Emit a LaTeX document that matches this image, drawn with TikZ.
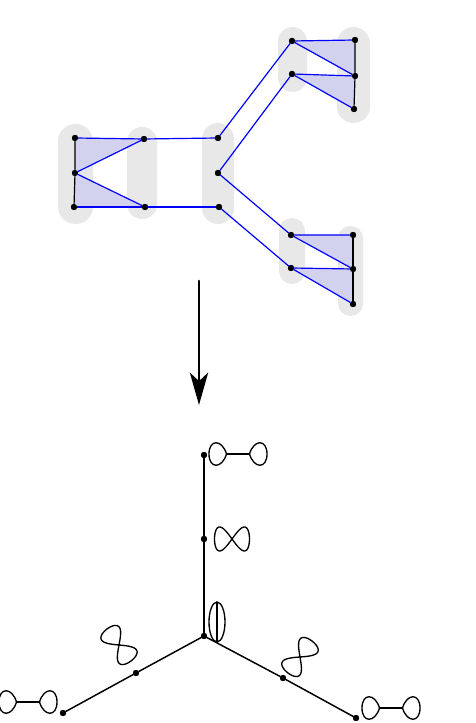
\documentclass[tikz,border=0pt]{standalone}
\usepackage{tikz}
\usetikzlibrary{arrows.meta,positioning,calc}
\definecolor{ink}{HTML}{000000}
\definecolor{edge}{HTML}{0000FF}
\definecolor{face}{HTML}{D2D2EE}
\definecolor{pad}{HTML}{E8E8E8}
\tikzset{
  every picture/.style={line cap=round, line join=round},
  vtx/.style={circle, fill=ink, inner sep=0pt, minimum size=4.4pt},
  capsule/.style={fill=pad, draw=none},
  cell/.style={fill=face, draw=none},
  link/.style={draw=edge, line width=0.85pt},
  side/.style={draw=ink, line width=0.85pt},
  branch/.style={draw=ink, line width=1.05pt},
  curve/.style={draw=ink, line width=0.95pt},
  bigarrow/.style={-{Stealth[length=23pt, width=13pt, inset=6pt]}, line width=1.8pt, draw=ink},
  dumbbell/.pic={
    \draw[curve] (-11.5,0) -- (11.5,0);
    \draw[curve] (11.5,0) .. controls (16,15) and (29,15) .. (29,0)
                 .. controls (29,-15) and (16,-15) .. (11.5,0);
    \draw[curve] (-11.5,0) .. controls (-16,15) and (-29,15) .. (-29,0)
                 .. controls (-29,-15) and (-16,-15) .. (-11.5,0);
  },
  eight/.pic={
    \draw[curve] plot[domain=0:360, samples=73, smooth cycle]
      ({cos(\x)}, {sin(\x)*cos(\x)});
  }
}

\begin{document}
\begin{tikzpicture}[x=0.025cm, y=0.025cm]
  \useasboundingbox (0,0) rectangle (475,723);

  % gray capsules behind the columns
  \fill[capsule, rounded corners=0.43cm] (58,499) rectangle (93,599);
  \fill[capsule, rounded corners=0.37cm] (127,504) rectangle (157,596);
  \fill[capsule, rounded corners=0.40cm] (202,499) rectangle (234,600);
  \fill[capsule, rounded corners=0.36cm] (278,631) rectangle (307,696);
  \fill[capsule, rounded corners=0.41cm] (337,600) rectangle (370,696);
  \fill[capsule, rounded corners=0.32cm] (279,439) rectangle (305,505);
  \fill[capsule, rounded corners=0.31cm] (338,407) rectangle (363,497);

  % vertices of the top complex
  \node[vtx] (a1) at (75,585) {};
  \node[vtx] (a2) at (75,550) {};
  \node[vtx] (a3) at (74,516) {};
  \node[vtx] (b1) at (144,584) {};
  \node[vtx] (b2) at (145,516) {};
  \node[vtx] (c1) at (218,585) {};
  \node[vtx] (c2) at (218,550) {};
  \node[vtx] (c3) at (219,516) {};
  \node[vtx] (u1) at (292,682) {};
  \node[vtx] (u2) at (292,649) {};
  \node[vtx] (v1) at (355,683) {};
  \node[vtx] (v2) at (355,647) {};
  \node[vtx] (v3) at (354,614) {};
  \node[vtx] (l1) at (291,488) {};
  \node[vtx] (l2) at (291,455) {};
  \node[vtx] (m1) at (353,488) {};
  \node[vtx] (m2) at (353,454) {};
  \node[vtx] (m3) at (353,419) {};

  % shaded triangles
  \fill[cell] (a1.center) -- (b1.center) -- (a2.center) -- cycle;
  \fill[cell] (a2.center) -- (b2.center) -- (a3.center) -- cycle;
  \fill[cell] (u1.center) -- (v1.center) -- (v2.center) -- cycle;
  \fill[cell] (u2.center) -- (v2.center) -- (v3.center) -- cycle;
  \fill[cell] (l1.center) -- (m1.center) -- (m2.center) -- cycle;
  \fill[cell] (l2.center) -- (m2.center) -- (m3.center) -- cycle;

  % edges
  \draw[side] (a1) -- (a2) -- (a3);
  \draw[side] (v1) -- (v2) -- (v3);
  \draw[side] (m1) -- (m2) -- (m3);
  \draw[link] (a1) -- (b1) -- (c1);
  \draw[link] (a3) -- (b2) -- (c3);
  \draw[link] (a2) -- (b1);
  \draw[link] (a2) -- (b2);
  \draw[link] (c1) -- (u1) -- (v1);
  \draw[link] (c2) -- (u2) -- (v2);
  \draw[link] (u1) -- (v2);
  \draw[link] (u2) -- (v3);
  \draw[link] (c2) -- (l1) -- (m1);
  \draw[link] (c3) -- (l2) -- (m2);
  \draw[link] (l1) -- (m2);
  \draw[link] (l2) -- (m3);

  % redraw vertices on top
  \foreach \v in {a1,a2,a3,b1,b2,c1,c2,c3,u1,u2,v1,v2,v3,l1,l2,m1,m2,m3}
    \fill[ink] (\v) circle (2.2pt);

  % arrow
  \coordinate (from) at (199,442);
  \coordinate (to) at (199,318);
  \draw[bigarrow] (from) -- (to);

  % tree below
  \node[vtx] (o) at (204,87) {};
  \node[vtx] (t1) at (204,184) {};
  \node[vtx] (t2) at (204,268) {};
  \node[vtx] (p1) at (136,50) {};
  \node[vtx] (p2) at (63,10) {};
  \node[vtx] (q1) at (283,45) {};
  \node[vtx] (q2) at (356,5) {};
  \draw[branch] (o) -- (t1) -- (t2);
  \draw[branch] (o) -- (p1) -- (p2);
  \draw[branch] (o) -- (q1) -- (q2);
  \foreach \v in {o,t1,t2,p1,p2,q1,q2}
    \fill[ink] (\v) circle (2.2pt);

  % graphs attached to the vertices
  \pic at (238,269) {dumbbell};
  \pic[xscale=17.5, yscale=24] at (232,184) {eight};
  \draw[curve] (217,101) ellipse (8 and 20);
  \draw[curve] (217,81) -- (217,121);
  \pic[rotate=-53, xscale=20, yscale=22] at (119,78) {eight};
  \pic[rotate=52, xscale=20, yscale=22] at (300,66) {eight};
  \pic at (28,21) {dumbbell};
  \pic at (391,15) {dumbbell};
\end{tikzpicture}
\end{document}
